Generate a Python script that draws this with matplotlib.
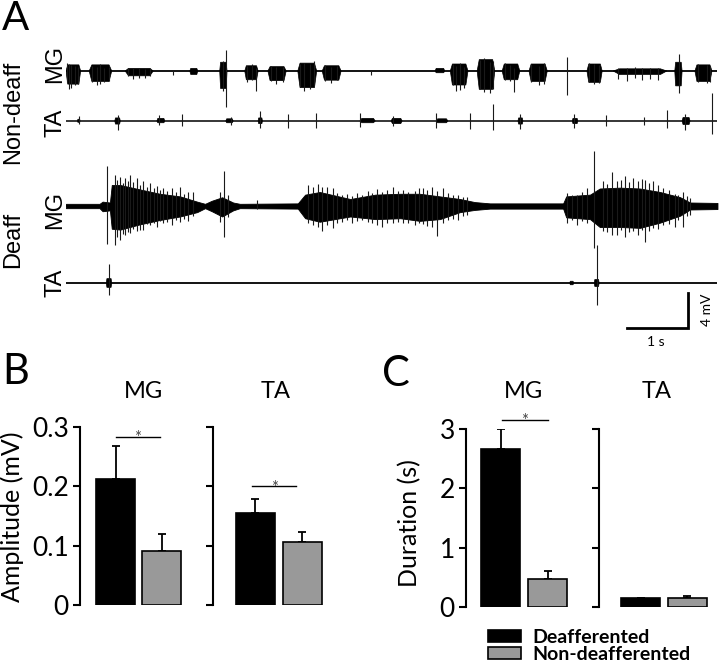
#!/usr/bin/env python3
# -*- coding: utf-8 -*-

from matplotlib import pyplot as plt
from matplotlib.patches import Patch

W, H = 720, 672

# ---- panel A: EMG traces (time in s, amplitude in mV) ----
trace_len = 10.68

# non-deafferented MG bursts: (t_start, t_end, up, down)
nd_mg_bursts = [
    (0.00, 0.24, 0.7, 1.5), (0.38, 0.75, 0.7, 1.2), (0.97, 1.43, 0.3, 0.55),
    (2.03, 2.16, 0.3, 0.4), (2.52, 2.64, 1.0, 2.0), (2.93, 3.15, 0.6, 1.0),
    (3.31, 3.61, 0.5, 1.1), (3.80, 4.11, 0.9, 1.9), (4.20, 4.51, 0.6, 1.05),
    (6.05, 6.21, 0.3, 0.2), (6.30, 6.59, 0.8, 1.6), (6.74, 7.03, 1.3, 2.1),
    (7.15, 7.44, 0.8, 1.0), (7.59, 7.89, 0.8, 1.2), (8.54, 8.79, 0.8, 1.3),
    (8.97, 9.85, 0.25, 0.4), (9.98, 10.10, 1.0, 1.7), (10.31, 10.59, 0.7, 1.2),
]
# non-deafferented MG single deflections: (t, up, down)
nd_mg_spikes = [
    (0.02, 0.9, 1.2), (0.05, 0.8, 2.0), (0.09, 0.7, 1.9), (0.15, 0.6, 1.6),
    (0.19, 0.5, 1.5), (0.42, 0.6, 1.2), (0.50, 0.5, 1.6), (0.55, 0.8, 1.5),
    (0.62, 0.4, 1.3), (0.70, 0.5, 1.1), (1.02, 0.4, 0.6), (1.10, 0.3, 0.9),
    (1.20, 0.3, 0.8), (1.30, 0.2, 0.8), (1.38, 0.35, 0.6), (1.75, 0.1, 0.4),
    (2.58, 1.1, 2.3), (2.62, 2.4, 4.1), (2.97, 0.6, 1.3), (3.05, 0.8, 1.0),
    (3.11, 0.3, 2.3), (3.36, 0.6, 1.1), (3.45, 0.5, 1.5), (3.55, 0.5, 1.3),
    (3.84, 0.8, 1.8), (3.90, 0.9, 2.3), (4.00, 0.8, 2.1), (4.06, 1.1, 1.6),
    (4.25, 0.7, 1.1), (4.35, 0.5, 1.4), (4.45, 0.6, 1.0), (5.00, 0.1, 0.5),
    (6.34, 0.8, 1.6), (6.40, 0.6, 2.3), (6.46, 0.9, 2.2), (6.52, 0.5, 1.9),
    (6.78, 1.3, 2.0), (6.85, 1.5, 2.4), (6.95, 1.0, 2.5), (7.00, 1.2, 2.1),
    (7.20, 0.9, 1.0), (7.28, 0.7, 1.1), (7.34, 0.3, 2.4), (7.63, 0.8, 1.3),
    (7.75, 0.6, 1.6), (7.84, 0.9, 1.5), (8.21, 1.6, 2.7), (8.58, 0.9, 1.3),
    (8.65, 0.8, 1.5), (8.74, 0.7, 1.4), (9.05, 0.4, 0.9), (9.20, 0.3, 1.1),
    (9.33, 0.45, 0.8), (9.45, 0.3, 1.0), (9.58, 0.3, 0.9), (9.70, 0.4, 1.0),
    (10.05, 1.9, 2.5), (10.36, 0.8, 1.2), (10.50, 0.7, 1.4), (10.55, 0.6, 1.3),
]

# non-deafferented TA
nd_ta_bursts = [
    (0.19, 0.23, 0.2, 0.15), (0.80, 0.89, 0.35, 0.35), (1.49, 1.62, 0.3, 0.2),
    (2.62, 2.74, 0.25, 0.2), (3.15, 3.22, 0.35, 0.3), (4.82, 5.07, 0.3, 0.2),
    (5.33, 5.51, 0.3, 0.3), (6.07, 6.26, 0.25, 0.2), (7.41, 7.49, 0.35, 0.35),
    (8.30, 8.39, 0.3, 0.3), (10.10, 10.23, 0.4, 0.4),
]
nd_ta_spikes = [
    (0.21, 0.55, 0.35), (0.85, 0.7, 1.0), (1.52, 0.7, 0.45), (1.90, 0.8, 0.55),
    (2.70, 0.45, 0.45), (3.18, 1.15, 0.8), (3.64, 0.8, 0.8), (4.10, 0.9, 0.8),
    (4.82, 0.9, 0.7), (5.36, 0.55, 0.55), (6.07, 0.9, 0.8), (6.62, 0.9, 0.9),
    (7.00, 1.95, 1.0), (7.45, 0.8, 0.9), (8.33, 0.8, 0.8), (8.86, 0.7, 0.55),
    (9.48, 0.45, 0.45), (9.85, 1.25, 0.8), (10.15, 0.8, 1.0), (10.59, 3.2, 1.5),
]

# deafferented MG: dense core envelope (t, up, down) and fringe deflections
d_mg_core = [
    (0.00, 0.25, 0.25), (0.55, 0.25, 0.25), (0.60, 0.5, 0.6), (0.72, 0.4, 0.5),
    (0.75, 2.4, 2.6), (0.89, 2.4, 2.7), (1.21, 1.9, 2.1), (1.54, 1.4, 1.6),
    (1.87, 1.1, 1.2), (2.15, 0.5, 0.7), (2.28, 0.25, 0.25), (2.39, 0.6, 0.6),
    (2.56, 1.0, 1.2), (2.74, 0.4, 0.5), (2.85, 0.25, 0.25), (3.80, 0.3, 0.3),
    (3.92, 1.3, 1.4), (4.16, 1.6, 1.8), (4.41, 1.2, 1.5), (4.66, 0.8, 1.2),
    (5.07, 1.3, 1.5), (5.48, 1.4, 1.4), (5.80, 1.4, 1.7), (6.13, 1.1, 1.5),
    (6.46, 0.8, 0.7), (6.70, 0.45, 0.45), (6.95, 0.3, 0.3), (8.15, 0.3, 0.3),
    (8.20, 1.1, 1.3), (8.59, 1.3, 1.5), (8.75, 2.0, 2.4), (9.08, 2.1, 2.4),
    (9.41, 2.0, 2.5), (9.74, 1.6, 1.9), (10.07, 1.0, 1.1), (10.23, 0.4, 0.4),
    (10.68, 0.35, 0.35),
]
d_mg_spikes = [
    (0.67, 4.6, 4.3), (0.80, 3.5, 4.5), (0.84, 3.0, 3.6), (0.89, 3.3, 3.9),
    (0.93, 2.6, 3.2), (0.97, 3.2, 3.3), (1.01, 2.8, 3.0), (1.05, 3.5, 3.1),
    (1.10, 2.7, 2.6), (1.16, 3.2, 2.9), (1.21, 2.4, 2.8), (1.27, 2.8, 2.7),
    (1.33, 2.2, 2.1), (1.38, 2.6, 2.2), (1.44, 2.0, 2.0), (1.49, 2.3, 2.4),
    (1.54, 1.8, 1.7), (1.59, 2.0, 2.0), (1.66, 1.7, 1.8), (1.73, 2.0, 2.2),
    (1.80, 1.6, 1.6), (1.87, 2.2, 1.8), (1.94, 1.4, 1.5), (2.00, 1.6, 1.7),
    (2.08, 1.6, 1.2), (2.52, 1.6, 1.8), (2.59, 4.0, 3.5), (2.65, 1.2, 1.3),
    (3.13, 0.7, 0.4), (3.97, 2.4, 2.0), (4.05, 2.2, 2.2), (4.13, 2.5, 2.4),
    (4.19, 2.2, 2.9), (4.28, 2.2, 2.2), (4.38, 2.0, 2.5), (4.45, 1.5, 1.9),
    (4.52, 1.3, 1.8), (4.60, 1.4, 1.6), (4.69, 1.1, 2.0), (4.77, 1.5, 1.7),
    (4.85, 1.3, 1.6), (4.95, 1.7, 1.8), (5.02, 1.5, 2.0), (5.10, 1.9, 2.2),
    (5.18, 1.6, 2.4), (5.27, 1.8, 1.9), (5.36, 2.2, 2.0), (5.44, 1.7, 1.8),
    (5.52, 1.8, 1.9), (5.60, 1.6, 2.0), (5.72, 1.7, 2.2), (5.78, 2.0, 1.9),
    (5.85, 2.1, 2.1), (5.92, 1.8, 2.3), (6.00, 2.2, 2.4), (6.08, 1.7, 3.4),
    (6.18, 2.1, 1.9), (6.27, 1.5, 1.6), (6.35, 1.3, 1.5), (6.42, 1.3, 1.6),
    (6.50, 1.0, 1.1), (6.57, 1.0, 1.0), (8.21, 1.5, 2.0), (8.30, 1.2, 1.6),
    (8.38, 1.3, 2.2), (8.46, 1.6, 1.7), (8.54, 2.0, 1.9), (8.66, 6.3, 4.8),
    (8.80, 2.8, 2.9), (8.87, 2.5, 3.0), (8.95, 3.9, 3.3), (9.03, 2.8, 3.3),
    (9.10, 3.0, 2.8), (9.16, 3.4, 3.5), (9.23, 2.7, 3.0), (9.30, 3.2, 2.9),
    (9.38, 2.9, 3.3), (9.44, 3.1, 2.8), (9.49, 3.0, 4.1), (9.56, 2.6, 2.9),
    (9.62, 2.9, 2.5), (9.70, 2.4, 2.6), (9.79, 2.0, 2.2), (9.88, 1.8, 2.1),
    (9.98, 1.4, 2.4), (10.04, 1.3, 1.6), (10.11, 1.6, 2.4), (10.18, 1.1, 1.2),
    (10.23, 0.9, 1.0),
]

# deafferented TA
d_ta_bursts = [(0.66, 0.75, 0.5, 0.5), (8.26, 8.32, 0.2, 0.2), (8.66, 8.74, 0.4, 0.4)]
d_ta_spikes = [(0.70, 2.2, 1.4), (8.70, 4.3, 2.5)]

# ---- panels B and C: means and SEM, [deafferented, non-deafferented] ----
groups = ["Deafferented", "Non-deafferented"]
bar_colors = ["black", "#999999"]
amp_mg_mean = [0.213, 0.091]
amp_mg_err = [0.055, 0.029]
amp_ta_mean = [0.155, 0.107]
amp_ta_err = [0.024, 0.016]
dur_mg_mean = [2.66, 0.47]
dur_mg_err = [0.34, 0.14]
dur_ta_mean = [0.15, 0.15]
dur_ta_err = [0.0, 0.03]

plt.rcParams['font.family'] = ['Lato', 'DejaVu Sans']

fig = plt.figure(figsize=(W / 100, H / 100), dpi=100)


def px_axes(left, top, right, bottom):
    return fig.add_axes([left / W, 1 - bottom / H, (right - left) / W, (bottom - top) / H])


def fig_text(x, y, s, **kw):
    fig.text(x / W, 1 - y / H, s, **kw)


# ---------------- panel A ----------------
A_TOP, A_BOT = 30, 345
PX_PER_MV = 8.75
ax_a = px_axes(66, A_TOP, 718, A_BOT)
ax_a.set_xlim(0, 652 / 61)
ax_a.set_ylim(0, (A_BOT - A_TOP) / PX_PER_MV)
ax_a.axis('off')


def draw_trace(offset, bursts, spikes, core=None, base_lw=1.0):
    ax_a.plot([0, trace_len], [offset, offset], color='black', lw=base_lw,
              solid_capstyle='butt')
    if core is not None:
        ts = [c[0] for c in core]
        ax_a.fill_between(ts, [offset - c[2] for c in core],
                          [offset + c[1] for c in core], color='black', lw=0.6)
    for t0, t1, up, dn in bursts:
        w = (t1 - t0) * 0.12
        xs = [t0, t0 + w, t1 - w, t1, t1 - w, t0 + w]
        ys = [offset, offset + up, offset + up, offset, offset - dn, offset - dn]
        ax_a.fill(xs, ys, color='black', lw=0.5)
    for t, up, dn in spikes:
        ax_a.vlines(t, offset - dn, offset + up, color='#1a1a1a', lw=0.8,
                    clip_on=False)


def offset_of(y_px):
    return (A_BOT - y_px) / PX_PER_MV


draw_trace(offset_of(71), nd_mg_bursts, nd_mg_spikes, base_lw=1.3)
draw_trace(offset_of(121), nd_ta_bursts, nd_ta_spikes, base_lw=1.1)
draw_trace(offset_of(206), [], d_mg_spikes, core=d_mg_core, base_lw=1.2)
draw_trace(offset_of(283), d_ta_bursts, d_ta_spikes, base_lw=1.3)

# scale bar: 1 s, 4 mV
sb_x, sb_y = 10.2, offset_of(328)
ax_a.plot([sb_x - 1, sb_x, sb_x], [sb_y, sb_y, sb_y + 4], color='black', lw=2,
          solid_joinstyle='miter')
fig_text(656, 342, "1 s", ha='center', va='center', fontsize=10)
fig_text(707, 310, "4 mV", ha='center', va='center', fontsize=10, rotation=90)

trace_font = ['Liberation Sans', 'DejaVu Sans']
fig_text(2, 0, "A", fontsize=29, va='top', ha='left')
fig_text(13, 112, "Non-deaff", fontsize=17, rotation=90, ha='center', va='center',
         family=trace_font)
fig_text(13, 240, "Deaff", fontsize=17, rotation=90, ha='center', va='center',
         family=trace_font)
for lbl, y in [("MG", 64), ("TA", 123), ("MG", 210), ("TA", 283)]:
    fig_text(55, y, lbl, fontsize=17, rotation=90, ha='center', va='center',
             family=trace_font)


# ---------------- panels B and C ----------------
def bar_panel(spine, c0, u, right, top, bottom, means, errs, ymax, ticks,
              ticklabels, title, title_x):
    ax = px_axes(spine, top, right, bottom)
    xs = [0, 1]
    ax.bar(xs, means, width=39 / u, color=bar_colors, edgecolor='black',
           linewidth=1.2, zorder=2)
    ax.errorbar(xs, means, yerr=[[0, 0], errs], fmt='none', ecolor='black',
                elinewidth=1.3, capsize=3, capthick=1.3, zorder=1)
    ax.set_xlim((spine - c0) / u, (right - c0) / u)
    ax.set_ylim(0, ymax)
    for side in ['top', 'right', 'bottom']:
        ax.spines[side].set_visible(False)
    ax.spines['left'].set_linewidth(1.5)
    ax.set_xticks([])
    ax.set_yticks(ticks)
    ax.set_yticklabels(ticklabels)
    ax.tick_params(axis='y', direction='out', length=5, width=1.5, pad=3,
                   labelsize=19)
    fig_text(title_x, 392, title, fontsize=17, ha='center', va='center')
    return ax


def sig_bar(ax, x0, x1, y):
    ax.plot([x0, x1], [y, y], color='black', lw=1.0, clip_on=False)
    ax.annotate("*", ((x0 + x1) / 2, y), xytext=(0, -1), textcoords='offset points',
                ha='center', va='center', fontsize=12, color='#444444',
                annotation_clip=False)


ax_b1 = bar_panel(80, 115.5, 46, 190, 427, 605, amp_mg_mean, amp_mg_err, 0.3,
                  [0, 0.1, 0.2, 0.3], ["0", "0.1", "0.2", "0.3"], "MG", 143)
ax_b2 = bar_panel(213, 255, 47, 330, 427, 605, amp_ta_mean, amp_ta_err, 0.3,
                  [0, 0.1, 0.2, 0.3], [], "TA", 276)
sig_bar(ax_b1, 0.0, 0.97, 0.283)
sig_bar(ax_b2, -0.06, 0.87, 0.2)

ax_c1 = bar_panel(466, 500.5, 47, 575, 429, 607, dur_mg_mean, dur_mg_err, 3,
                  [0, 1, 2, 3], ["0", "1", "2", "3"], "MG", 523)
ax_c2 = bar_panel(599, 640.5, 46.5, 715, 429, 607, dur_ta_mean, dur_ta_err, 3,
                  [0, 1, 2, 3], [], "TA", 657)
sig_bar(ax_c1, 0.03, 1.01, 3.15)

fig_text(2, 372, "B", fontsize=30, va='center', ha='left')
fig_text(382, 374, "C", fontsize=30, va='center', ha='left')
fig_text(12, 517, "Amplitude (mV)", fontsize=18, rotation=90, ha='center', va='center')
fig_text(410, 523, "Duration (s)", fontsize=18, rotation=90, ha='center', va='center')

handles = [Patch(facecolor=c, edgecolor='black', linewidth=1.2) for c in bar_colors]
fig.legend(handles, groups, loc='upper left', bbox_to_anchor=(474 / W, 1 - 615 / H),
           frameon=False, prop={'weight': 'bold', 'size': 14},
           handlelength=1.7, handleheight=0.55, handletextpad=0.6,
           labelspacing=0.0, borderpad=0.2)

fig.savefig("out.png", dpi=100)
